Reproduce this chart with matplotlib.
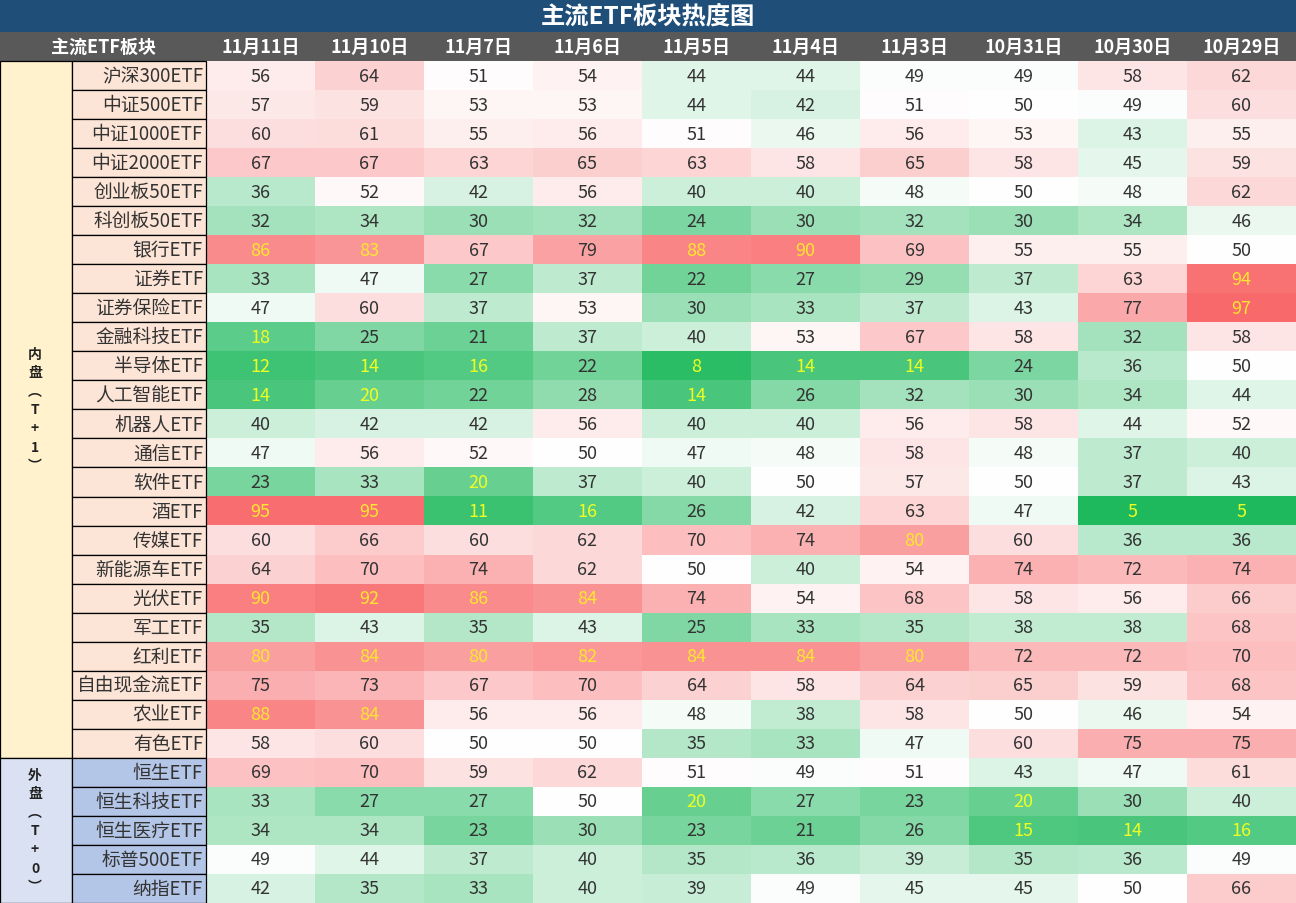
import matplotlib
matplotlib.use("Agg")
import matplotlib.pyplot as plt
import numpy as np
from matplotlib.colors import LinearSegmentedColormap, TwoSlopeNorm
from matplotlib.patches import Rectangle

plt.rcParams['font.family'] = ['Noto Sans CJK SC', 'DejaVu Sans']

title = "主流ETF板块热度图"
corner_label = "主流ETF板块"
dates = ["11月11日", "11月10日", "11月7日", "11月6日", "11月5日",
         "11月4日", "11月3日", "10月31日", "10月30日", "10月29日"]

inner_names = ["沪深300ETF", "中证500ETF", "中证1000ETF", "中证2000ETF", "创业板50ETF",
               "科创板50ETF", "银行ETF", "证券ETF", "证券保险ETF", "金融科技ETF",
               "半导体ETF", "人工智能ETF", "机器人ETF", "通信ETF", "软件ETF",
               "酒ETF", "传媒ETF", "新能源车ETF", "光伏ETF", "军工ETF",
               "红利ETF", "自由现金流ETF", "农业ETF", "有色ETF"]
outer_names = ["恒生ETF", "恒生科技ETF", "恒生医疗ETF", "标普500ETF", "纳指ETF"]

inner_values = [
    [56, 64, 51, 54, 44, 44, 49, 49, 58, 62],
    [57, 59, 53, 53, 44, 42, 51, 50, 49, 60],
    [60, 61, 55, 56, 51, 46, 56, 53, 43, 55],
    [67, 67, 63, 65, 63, 58, 65, 58, 45, 59],
    [36, 52, 42, 56, 40, 40, 48, 50, 48, 62],
    [32, 34, 30, 32, 24, 30, 32, 30, 34, 46],
    [86, 83, 67, 79, 88, 90, 69, 55, 55, 50],
    [33, 47, 27, 37, 22, 27, 29, 37, 63, 94],
    [47, 60, 37, 53, 30, 33, 37, 43, 77, 97],
    [18, 25, 21, 37, 40, 53, 67, 58, 32, 58],
    [12, 14, 16, 22, 8, 14, 14, 24, 36, 50],
    [14, 20, 22, 28, 14, 26, 32, 30, 34, 44],
    [40, 42, 42, 56, 40, 40, 56, 58, 44, 52],
    [47, 56, 52, 50, 47, 48, 58, 48, 37, 40],
    [23, 33, 20, 37, 40, 50, 57, 50, 37, 43],
    [95, 95, 11, 16, 26, 42, 63, 47, 5, 5],
    [60, 66, 60, 62, 70, 74, 80, 60, 36, 36],
    [64, 70, 74, 62, 50, 40, 54, 74, 72, 74],
    [90, 92, 86, 84, 74, 54, 68, 58, 56, 66],
    [35, 43, 35, 43, 25, 33, 35, 38, 38, 68],
    [80, 84, 80, 82, 84, 84, 80, 72, 72, 70],
    [75, 73, 67, 70, 64, 58, 64, 65, 59, 68],
    [88, 84, 56, 56, 48, 38, 58, 50, 46, 54],
    [58, 60, 50, 50, 35, 33, 47, 60, 75, 75],
]
outer_values = [
    [69, 70, 59, 62, 51, 49, 51, 43, 47, 61],
    [33, 27, 27, 50, 20, 27, 23, 20, 30, 40],
    [34, 34, 23, 30, 23, 21, 26, 15, 14, 16],
    [49, 44, 37, 40, 35, 36, 39, 35, 36, 49],
    [42, 35, 33, 40, 39, 49, 45, 45, 50, 66],
]
group_labels = ["内盘（T+1）", "外盘（T+0）"]

# ---------------- layout ----------------
W, H = 1296, 904
title_h = 33
header_h = 29
group_w = 72
name_w = 134
top = title_h + header_h
names = inner_names + outer_names
values = np.array(inner_values + outer_values, dtype=float)
n_rows, n_cols = values.shape
row_h = (H - top) / n_rows
data_x0 = group_w + name_w
col_w = (W - data_x0) / n_cols

fig = plt.figure(figsize=(W / 100, H / 100), dpi=100)
ax = fig.add_axes([0, 0, 1, 1])
ax.set_xlim(0, W)
ax.set_ylim(H, 0)
ax.axis('off')

# title
ax.add_patch(Rectangle((0, 0), W, title_h, facecolor="#1F4E79", edgecolor="none"))
ax.text(W / 2, title_h / 2, title, color="white", fontsize=17.5, fontweight="bold",
        ha="center", va="center")
# header
ax.add_patch(Rectangle((0, title_h), W, header_h, facecolor="#595959", edgecolor="none"))
ax.text((group_w + name_w) / 2, title_h + header_h / 2, corner_label, color="white",
        fontsize=13, fontweight="bold", ha="center", va="center")
for j, d in enumerate(dates):
    ax.text(data_x0 + (j + 0.5) * col_w, title_h + header_h / 2, d, color="white",
            fontsize=13, fontweight="bold", ha="center", va="center")

# heatmap
cmap = LinearSegmentedColormap.from_list("rg", ["#1DB95C", "#FFFFFF", "#F8696B"])
norm = TwoSlopeNorm(vmin=values.min(), vcenter=50, vmax=values.max())
ax.imshow(values, cmap=cmap, norm=norm, extent=[data_x0, W, H, top],
          aspect='auto', interpolation='nearest', origin='upper')
ax.set_xlim(0, W)
ax.set_ylim(H, 0)

for i in range(n_rows):
    for j in range(n_cols):
        v = values[i, j]
        if v >= 80:
            c = "#FFE62E"
        elif v <= 20:
            c = "#EEFF22"
        else:
            c = "#333333"
        ax.text(data_x0 + (j + 0.5) * col_w, top + (i + 0.5) * row_h, f"{int(v)}",
                color=c, fontsize=13, ha="center", va="center")

# name and group columns
groups = [(inner_names, "#FFF2CC", "#FCE4D6"), (outer_names, "#D9E1F2", "#B4C6E7")]
start = 0
for g, (gnames, gcol, ncol) in enumerate(groups):
    n = len(gnames)
    y0 = top + start * row_h
    ax.add_patch(Rectangle((0, y0), group_w, n * row_h, facecolor=gcol,
                           edgecolor="black", lw=0.9))
    lab = group_labels[g].replace("（", "︵").replace("）", "︶")
    ax.text(group_w / 2 - 1, y0 + n * row_h / 2, "\n".join(lab), fontsize=10,
            fontweight="bold", color="#222222", ha="center", va="center",
            linespacing=1.42)
    for k, nm in enumerate(gnames):
        yy = top + (start + k) * row_h
        ax.add_patch(Rectangle((group_w, yy), name_w, row_h, facecolor=ncol,
                               edgecolor="black", lw=0.9))
        ax.text(group_w + name_w - 3, yy + row_h / 2, nm, fontsize=13.5,
                color="#333333", ha="right", va="center")
    start += n

fig.savefig("out.png", dpi=100)
